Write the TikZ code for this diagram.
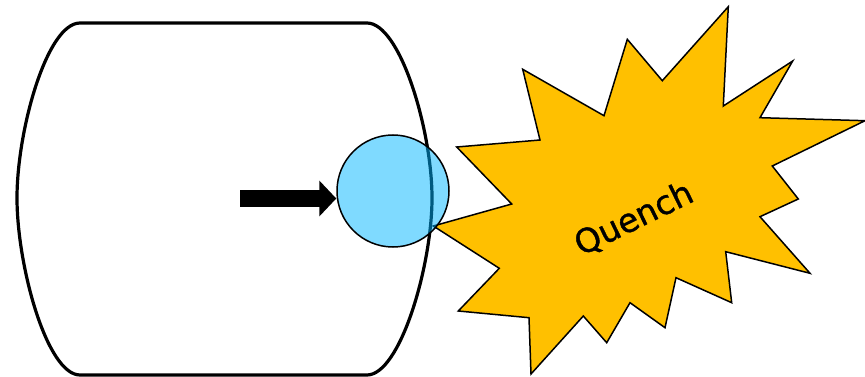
\documentclass[tikz,border=0pt]{standalone}
\usepackage{fontspec}
\newfontfamily\quenchfont[FakeBold=1.2]{DejaVu Sans}
\definecolor{burstyellow}{RGB}{255,192,0}
\definecolor{dropblue}{RGB}{0,181,255}

\begin{document}
\begin{tikzpicture}[x=1pt, y=-1pt,
  vessel/.style={line width=3.2pt, line join=round},
  drop/.style={draw, circle, line width=1.5pt, fill=dropblue,
               fill opacity=0.5, minimum size=112pt, inner sep=0pt},
  burst/.style={draw, fill=burstyellow, line width=1.5pt, line join=miter},
  shaft/.style={line width=17.7pt},
  word/.style={font=\quenchfont\fontsize{33}{40}\selectfont, rotate=26}
]
\useasboundingbox (0,0) rectangle (865,377);
% vessel
\draw[vessel] (80,23) -- (367,23)
  .. controls (400,23) and (432,130) .. (432,198)
  .. controls (432,266) and (400,375) .. (367,375)
  -- (80,375)
  .. controls (47,375) and (17,266) .. (17,198)
  .. controls (17,130) and (47,23) .. (80,23) -- cycle;
% quench burst
\draw[burst] (728.3,6.7) -- (723.3,106) -- (792.7,61) -- (760,117.7)
  -- (865,120.7) -- (772.3,166) -- (798.3,199) -- (760,216.7)
  -- (810,273.3) -- (725.7,251.7) -- (731.7,302.7) -- (676,277.7)
  -- (665,327.7) -- (630,302.7) -- (606.7,342.7) -- (583.3,316)
  -- (531,374) -- (529,317.7) -- (458.3,311) -- (499.3,268.3)
  -- (433.3,226) -- (511.7,204) -- (456.7,147) -- (540,140)
  -- (522.7,69.3) -- (604,115.7) -- (627.3,39.3) -- (662.3,80.7) -- cycle;
\node[word] (qtxt) at (634,219) {Quench};
% droplet and push
\node[drop] (bub) at (393,191) {};
\coordinate (tail) at (240,198.5);
\coordinate (tip) at (tail -| bub.west);
\draw[shaft] (tail) -- ([xshift=-16pt]tip);
\fill ([xshift=-17pt,yshift=18pt]tip) -- (tip) -- ([xshift=-17pt,yshift=-18pt]tip) -- cycle;
\end{tikzpicture}
\end{document}
